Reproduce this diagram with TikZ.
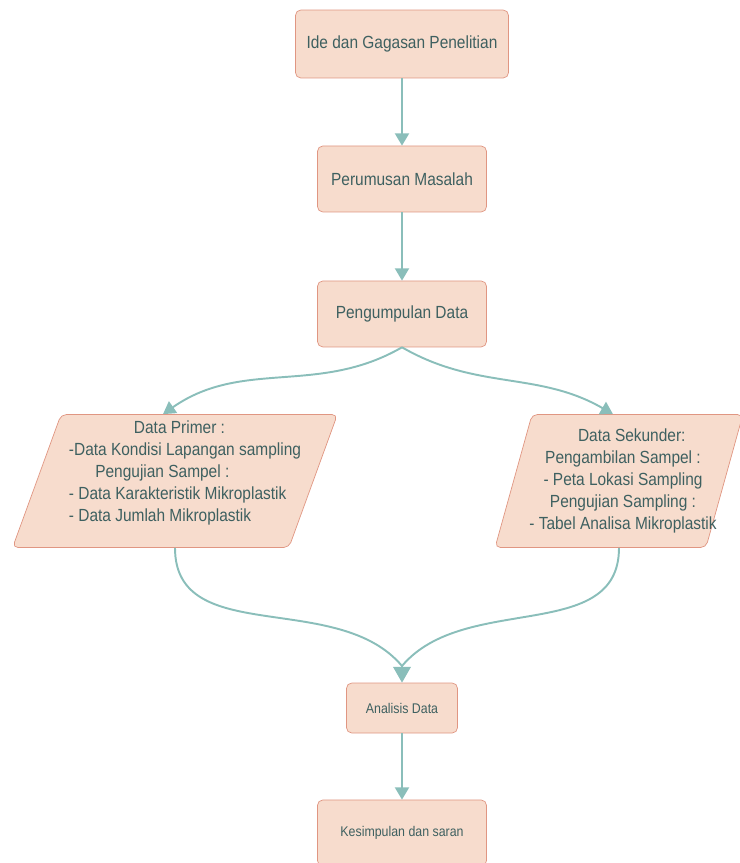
\documentclass[tikz,border=0pt]{standalone}
\usepackage{fontspec}
\setmainfont{Liberation Sans}[FakeStretch=0.88]
\usetikzlibrary{shapes.geometric,arrows.meta}
\definecolor{boxfill}{RGB}{247,220,205}
\definecolor{boxline}{RGB}{224,150,130}
\definecolor{txtcol}{RGB}{62,96,96}
\definecolor{arrcol}{RGB}{138,190,186}
\tikzset{
  box/.style={draw=boxline,fill=boxfill,rounded corners=3pt,text=txtcol,
    minimum width=3.38cm,minimum height=1.32cm,font=\fontsize{10}{12.5}\selectfont},
  smallbox/.style={box,font=\fontsize{8}{10}\selectfont},
  para/.style={trapezium,trapezium left angle=78,trapezium right angle=102,
    trapezium stretches=true,draw=boxline,fill=boxfill,rounded corners=3pt,
    minimum height=2.66cm,inner sep=3pt},
  paratext/.style={text=txtcol,font=\fontsize{10}{12.5}\selectfont,inner sep=0pt},
  flow/.style={draw=arrcol,line width=1.1pt,-{Triangle[width=8pt,length=7pt]}},
  flowline/.style={draw=arrcol,line width=1.1pt}
}
\begin{document}
\begin{tikzpicture}[node distance=2.7cm,x=0.02cm,y=-0.02cm]
\useasboundingbox (0,0) rectangle (740,863);
\clip (0,0) rectangle (740,863);
\node[box,minimum width=4.26cm,minimum height=1.36cm] (ide) at (402,44) {Ide dan Gagasan Penelitian};
\node[box,below of=ide] (rumusan) {Perumusan Masalah};
\node[box,below of=rumusan] (kumpul) {Pengumpulan Data};

\node[para,minimum width=6.5cm] (primer) at (175,481) {};
\node[paratext,align=left] (primertxt) at (185,473) {\hspace{37pt}Data Primer :\\-Data Kondisi Lapangan sampling\\\hspace{15pt}Pengujian Sampel :\\- Data Karakteristik Mikroplastik\\- Data Jumlah Mikroplastik};
\node[para,minimum width=4.96cm] (sekunder) at (619,481) {};
\node[paratext,align=center] (sekundertxt) at (623,481) {\hspace{10pt}Data Sekunder:\\Pengambilan Sampel :\\- Peta Lokasi Sampling\\Pengujian Sampling :\\- Tabel Analisa Mikroplastik};

\node[smallbox,minimum width=2.22cm,minimum height=1cm] (analisis) at (402,708) {Analisis Data};
\node[smallbox,below of=analisis,node distance=2.5cm] (simpulan) {Kesimpulan dan saran};
\coordinate (gabung) at (402,666);

\draw[flow] (ide) -- (rumusan);
\draw[flow] (rumusan) -- (kumpul);
\draw[flow] (kumpul.south) to[out=-150,in=35] ([xshift=-0.24cm]primer.north);
\draw[flow] (kumpul.south) to[out=-30,in=150] ([xshift=-0.12cm]sekunder.north);
\draw[flowline] (primer.south) to[out=-90,in=130] (gabung);
\draw[flowline] (sekunder.south) to[out=-90,in=50] (gabung);
\draw[flow,-{Triangle[width=10pt,length=9pt]}] (gabung) -- (analisis.north);
\draw[flow] (analisis) -- (simpulan);
\end{tikzpicture}
\end{document}
